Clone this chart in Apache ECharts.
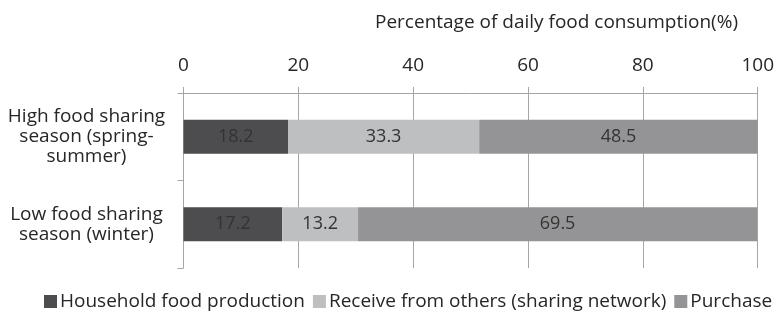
<!DOCTYPE html>
<html>
<head>
<meta charset="utf-8">
<script src="https://cdn.jsdelivr.net/npm/echarts@6/dist/echarts.min.js"></script>
<style>
  html, body { margin: 0; padding: 0; background: #fff; }
  #chart { width: 777px; height: 320px; }
</style>
</head>
<body>
<div id="chart"></div>
<script>
// Seasons (rows of the stacked bar chart)
const seasons = [
  'High food sharing\nseason (spring-\nsummer)',
  'Low food sharing\nseason (winter)'
];

// Share of daily food consumption by source (%)
const householdProduction = [18.2, 17.2];
const receivedFromOthers = [33.3, 13.2];
const purchased = [48.5, 69.5];

const seriesNames = [
  'Household food production',
  'Receive from others (sharing network)',
  'Purchase'
];

const xTicks = { min: 0, max: 100, interval: 20 };

const FONT = 'Open Sans';
const TEXT = '#262626';
const AXIS = '#a6a6a6';
const colors = ['#4d4d4f', '#bebfc1', '#949496'];

const chart = echarts.init(document.getElementById('chart'));

function barSeries(name, data, color) {
  return {
    name: name,
    type: 'bar',
    stack: 'total',
    data: data,
    barWidth: 34,
    itemStyle: { color: color },
    label: {
      show: true,
      position: 'inside',
      color: '#333',
      fontFamily: FONT,
      fontSize: 18,
      formatter: p => p.value.toFixed(1)
    }
  };
}

chart.setOption({
  animation: false,
  textStyle: { fontFamily: FONT },
  title: {
    text: 'Percentage of daily food consumption(%)',
    left: 370,
    top: 8,
    textStyle: { fontFamily: FONT, fontSize: 19, fontWeight: 'normal', color: TEXT }
  },
  grid: { left: 183.5, right: 13.5, top: 93, bottom: 52, containLabel: false },
  legend: {
    bottom: 9,
    left: 44,
    width: 760,
    padding: 0,
    icon: 'rect',
    itemWidth: 13,
    itemHeight: 13,
    itemGap: 8,
    textStyle: { fontFamily: FONT, fontSize: 19, color: TEXT, padding: [0, 0, 0, -2] },
    data: seriesNames
  },
  xAxis: {
    type: 'value',
    position: 'top',
    min: xTicks.min,
    max: xTicks.max,
    interval: xTicks.interval,
    axisLine: { show: true, lineStyle: { color: AXIS, width: 1 } },
    axisTick: { show: true, length: 6, lineStyle: { color: AXIS } },
    splitLine: { show: true, lineStyle: { color: AXIS, width: 1 } },
    axisLabel: { margin: 18, fontFamily: FONT, fontSize: 19, color: TEXT }
  },
  yAxis: {
    type: 'category',
    inverse: true,
    data: seasons,
    axisLine: { show: true, lineStyle: { color: AXIS, width: 1 } },
    axisTick: { show: true, length: 6, lineStyle: { color: AXIS } },
    axisLabel: {
      margin: 97,
      align: 'center',
      fontFamily: FONT,
      fontSize: 19,
      lineHeight: 20,
      color: TEXT
    }
  },
  series: [
    barSeries(seriesNames[0], householdProduction, colors[0]),
    barSeries(seriesNames[1], receivedFromOthers, colors[1]),
    barSeries(seriesNames[2], purchased, colors[2])
  ]
});
</script>
</body>
</html>
